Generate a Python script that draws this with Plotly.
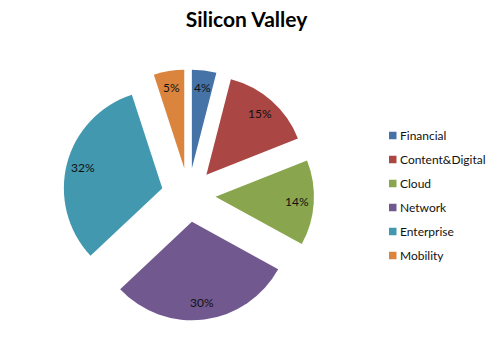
import math
import plotly.graph_objects as go

# Market share by segment
segments = ["Financial", "Content&Digital", "Cloud", "Network", "Enterprise", "Mobility"]
shares = [4, 15, 14, 30, 32, 5]
colors = ["#4572A7", "#AA4643", "#89A54E", "#71588F", "#4198AF", "#DB843D"]

W, H = 493, 346
PULL = 0.275
dom_x = [0.1278, 0.6369]
dom_y = [0.0722, 0.8006]

fig = go.Figure(
    go.Pie(
        labels=segments,
        values=shares,
        marker=dict(colors=colors, line=dict(width=0)),
        sort=False,
        direction="clockwise",
        rotation=0,
        pull=[PULL] * len(shares),
        textinfo="none",
        hoverinfo="label+percent",
        domain=dict(x=dom_x, y=dom_y),
        showlegend=False,
    )
)

# Percentage labels placed along each slice's mid-angle
cx = W * (dom_x[0] + dom_x[1]) / 2
cy = H * (1 - (dom_y[0] + dom_y[1]) / 2)
box = min(W * (dom_x[1] - dom_x[0]), H * (dom_y[1] - dom_y[0]))
radius = box / (2 + 2 * PULL)
label_r = radius * (PULL + 0.83)
total = sum(shares)
cum = 0
annotations = []
for v in shares:
    theta = 2 * math.pi * (cum + v / 2) / total
    cum += v
    px = cx + label_r * math.sin(theta)
    py = cy - label_r * math.cos(theta)
    annotations.append(dict(
        x=px / W, y=1 - py / H, xref="paper", yref="paper",
        text=f"{round(100 * v / total)}%", showarrow=False,
        font=dict(family="Lato", size=12, color="#111111"),
        xanchor="center", yanchor="middle",
    ))

# Legend: colour squares with segment names
shapes = []
leg_x, leg_y0, leg_step, sq = 389, 135.5, 24, 7.5
for i, (name, col) in enumerate(zip(segments, colors)):
    yy = leg_y0 + i * leg_step
    shapes.append(dict(
        type="rect", xref="paper", yref="paper",
        x0=leg_x / W, x1=(leg_x + sq) / W,
        y0=1 - (yy + sq / 2) / H, y1=1 - (yy - sq / 2) / H,
        fillcolor=col, line=dict(width=0),
    ))
    annotations.append(dict(
        x=(leg_x + sq + 1) / W, y=1 - yy / H, xref="paper", yref="paper",
        text=name, showarrow=False,
        font=dict(family="Lato", size=12, color="#111111"),
        xanchor="left", yanchor="middle",
    ))

fig.update_layout(
    width=W, height=H,
    margin=dict(l=0, r=0, t=0, b=0),
    paper_bgcolor="white", plot_bgcolor="white",
    title=dict(
        text="<b>Silicon Valley</b>",
        x=0.5, xref="paper", xanchor="center",
        y=1 - 20 / H, yref="container", yanchor="middle",
        font=dict(family="Lato", size=21, color="black"),
    ),
    annotations=annotations,
    shapes=shapes,
)

fig.write_html("out.html")
